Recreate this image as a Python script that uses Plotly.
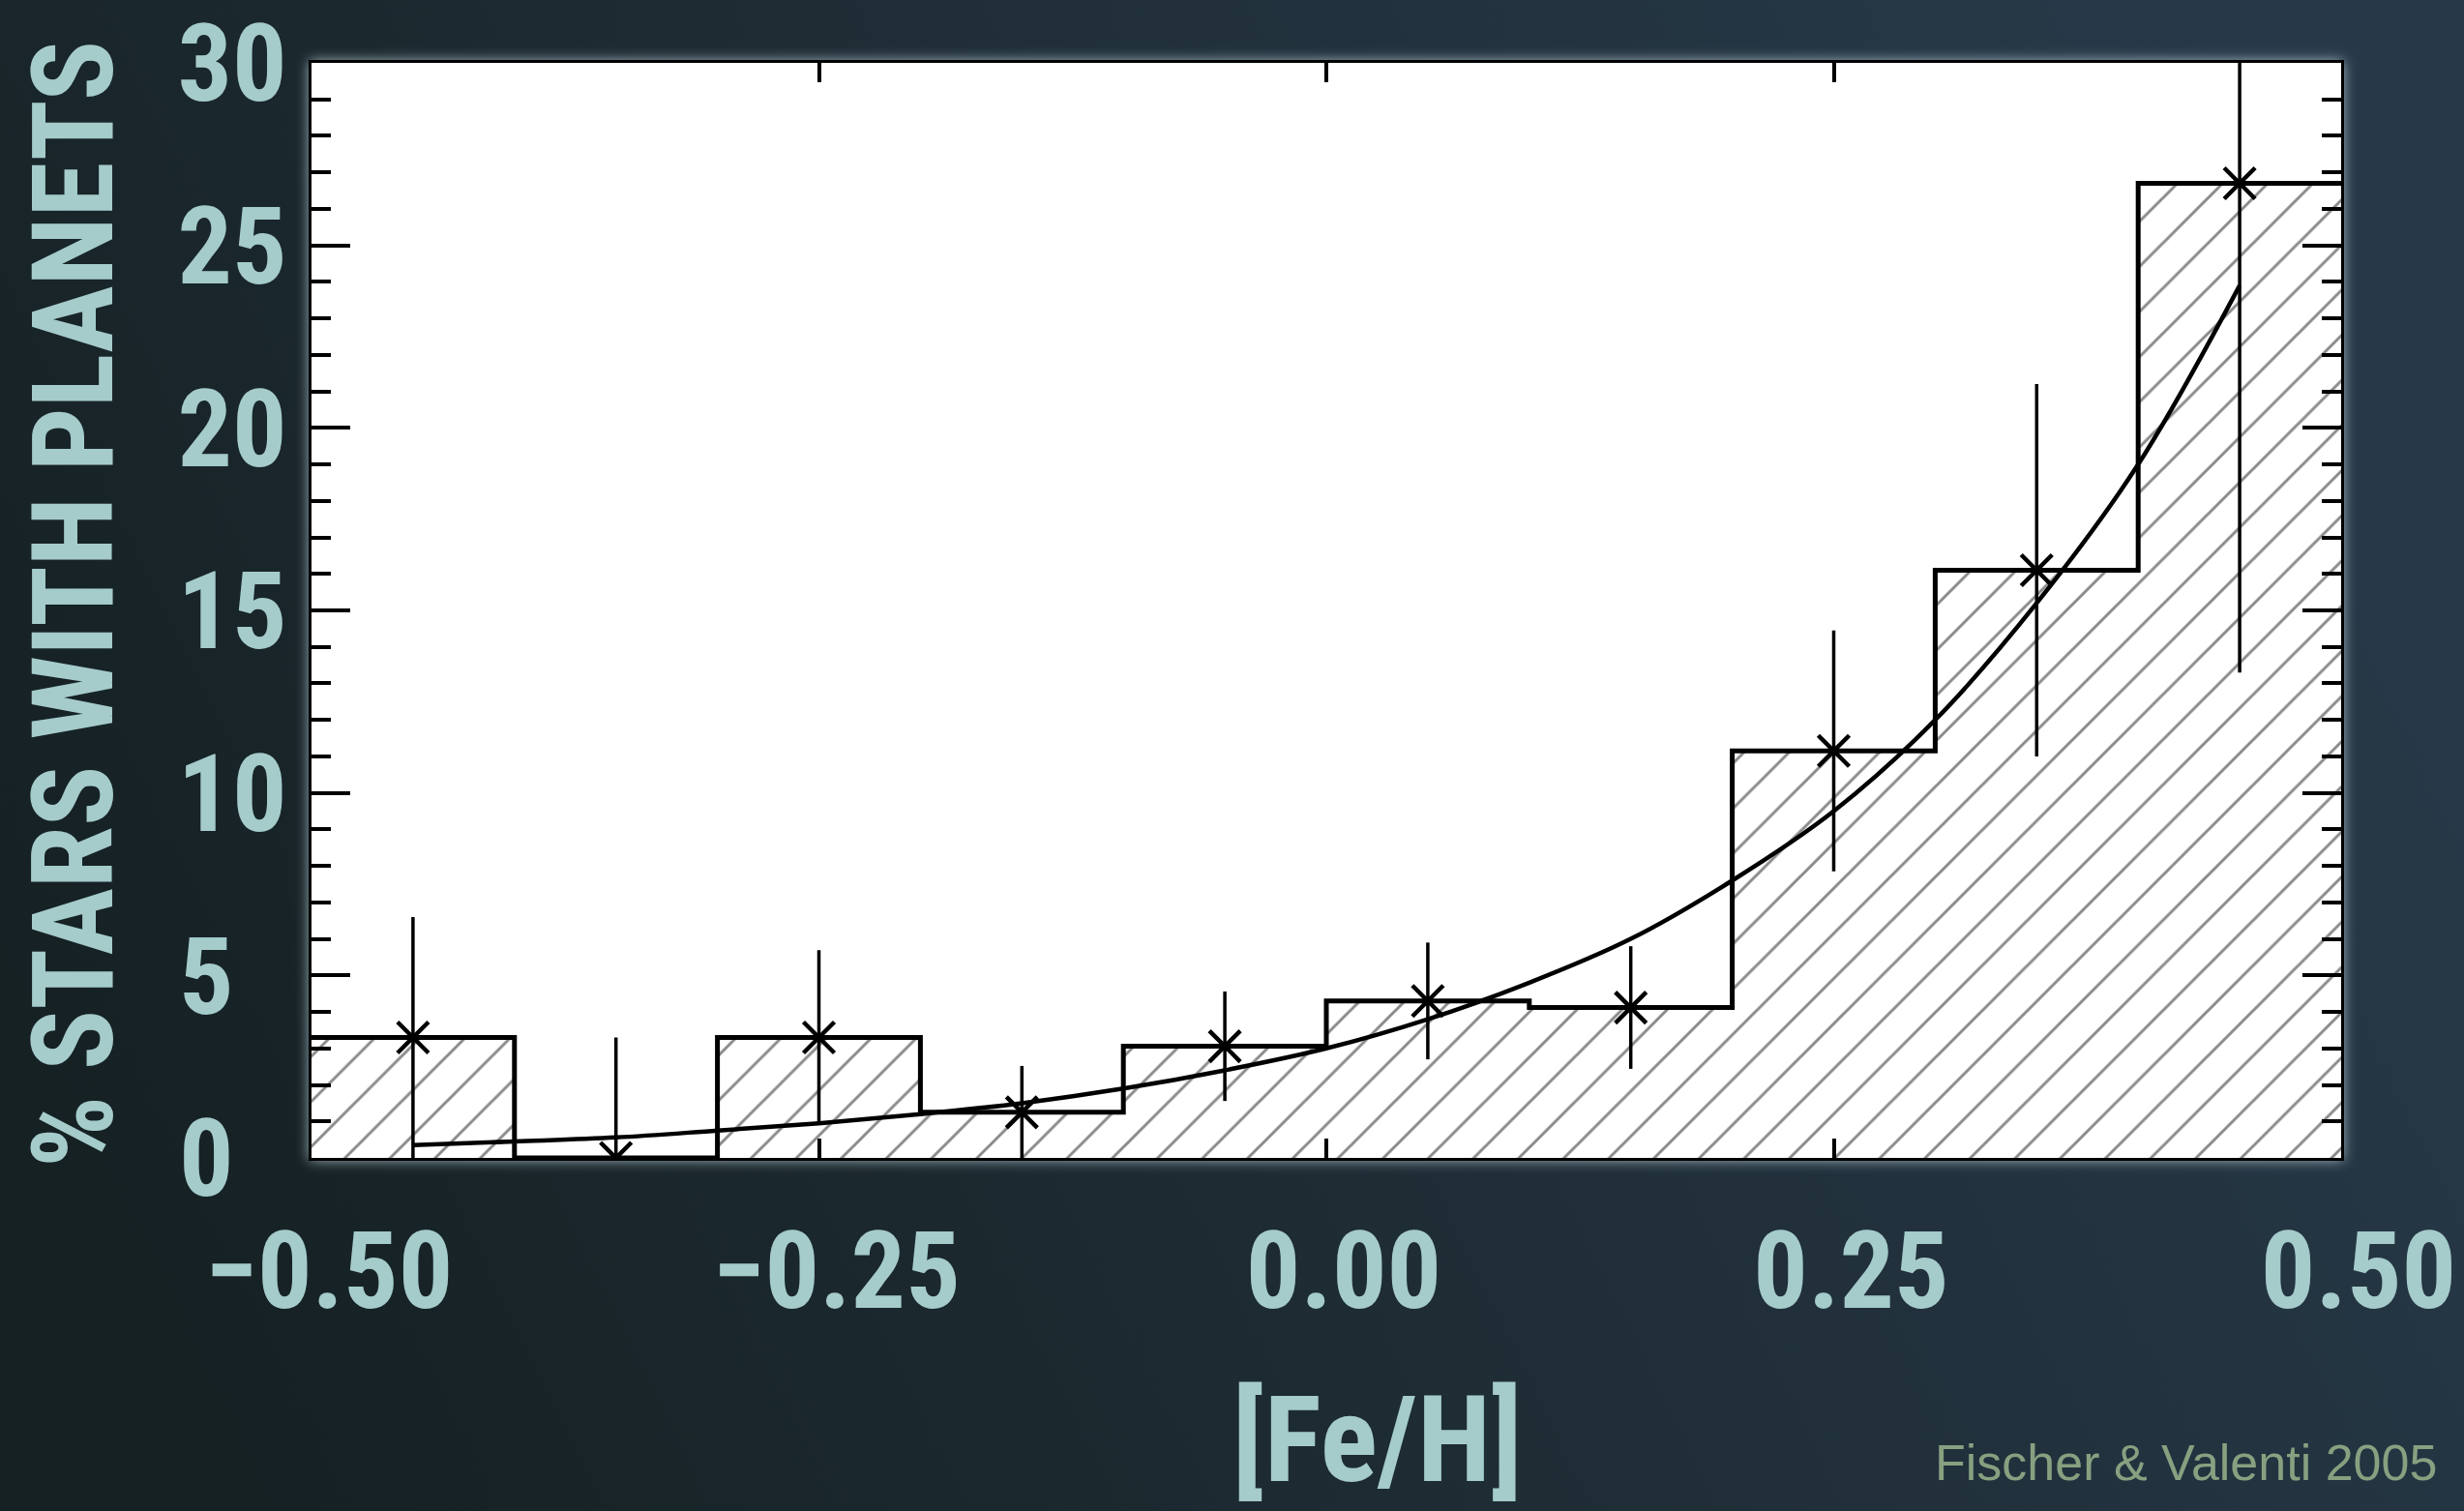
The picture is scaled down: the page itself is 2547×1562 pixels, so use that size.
import base64
import plotly.graph_objects as go

# Planet occurrence vs. stellar metallicity, 0.1 dex bins
feh_bin_centers = [-0.45, -0.35, -0.25, -0.15, -0.05, 0.05, 0.15, 0.25, 0.35, 0.45]
pct_with_planets = [3.3, 0.0, 3.3, 1.25, 3.06, 4.3, 4.12, 11.15, 16.1, 26.7]
pct_error = [3.3, 3.3, 2.39, 1.27, 1.5, 1.6, 1.68, 3.3, 5.1, 13.4]
bin_width = 0.1

# Power-law fit curve
fit_feh = [-0.45, -0.40, -0.35, -0.30, -0.25, -0.20, -0.15, -0.10, -0.05, 0.00,
           0.05, 0.10, 0.15, 0.20, 0.25, 0.30, 0.35, 0.40, 0.45]
fit_pct = [0.35, 0.45, 0.56, 0.75, 0.95, 1.2, 1.5, 1.9, 2.4, 3.0,
           3.8, 4.8, 6.0, 7.6, 9.5, 12.0, 15.2, 19.0, 23.9]

x_tick_vals = [-0.50, -0.25, 0.00, 0.25, 0.50]
x_tick_text = ["\u22120.50", "\u22120.25", "0.00", "0.25", "0.50"]
y_tick_vals = [0, 5, 10, 15, 20, 25, 30]
y_tick_text = ["0\u2007", "5\u2007", "10", "15", "20", "25", "30"]

W, H = 2547, 1562
L, R, T, B = 322, 127, 65, 365
PW, PH = W - L - R, H - T - B

TEXT = "#a5cbcb"
NARROW = "Liberation Sans Narrow, Roboto Condensed, DejaVu Sans Condensed, Liberation Sans, sans-serif"

# Backdrop: dark slate gradient, a soft halo round the plot frame, white plot panel
svg = f"""<svg xmlns="http://www.w3.org/2000/svg" width="{W}" height="{H}" viewBox="0 0 {W} {H}" preserveAspectRatio="none">
<defs>
<linearGradient id="bg" x1="0" y1="0.65" x2="1" y2="0.35">
<stop offset="0" stop-color="#152123"/>
<stop offset="0.5" stop-color="#1f2d36"/>
<stop offset="1" stop-color="#273949"/>
</linearGradient>
<filter id="halo" x="-5%" y="-5%" width="110%" height="110%"><feGaussianBlur stdDeviation="7"/></filter>
</defs>
<rect width="{W}" height="{H}" fill="url(#bg)"/>
<rect x="{L-2}" y="{T-2}" width="{PW+4}" height="{PH+4}" fill="#a9bec6" filter="url(#halo)"/>
<rect x="{L}" y="{T}" width="{PW}" height="{PH}" fill="#ffffff"/>
</svg>"""
bg_uri = "data:image/svg+xml;base64," + base64.b64encode(svg.encode()).decode()

fig = go.Figure()

# Hatched histogram
fig.add_trace(go.Bar(
    x=feh_bin_centers, y=pct_with_planets, width=bin_width,
    marker=dict(color="white", line=dict(width=0),
                pattern=dict(shape="/", fgcolor="#151515", bgcolor="white",
                             size=33, solidity=0.09, fillmode="overlay")),
    showlegend=False, hoverinfo="skip",
))

# Histogram outline as a step line
edges = [c - bin_width / 2 for c in feh_bin_centers] + [feh_bin_centers[-1] + bin_width / 2]
steps = pct_with_planets + [pct_with_planets[-1]]
fig.add_trace(go.Scatter(
    x=edges, y=steps, mode="lines", line=dict(shape="hv", color="black", width=5),
    showlegend=False, hoverinfo="skip",
))

# Fit curve
fig.add_trace(go.Scatter(
    x=fit_feh, y=fit_pct, mode="lines", line=dict(color="black", width=4.5, shape="spline"),
    showlegend=False, hoverinfo="skip",
))

# Bin values with error bars
fig.add_trace(go.Scatter(
    x=feh_bin_centers, y=pct_with_planets, mode="markers",
    marker=dict(symbol="x-thin", size=32, color="black", line=dict(width=4.5, color="black")),
    error_y=dict(type="data", array=pct_error, visible=True, width=0, thickness=3.5, color="black"),
    showlegend=False, hoverinfo="skip",
))

axis_common = dict(
    showgrid=False, zeroline=False, showline=True, linecolor="black", linewidth=3,
    mirror="allticks", ticks="inside", tickcolor="black", tickwidth=4,
    ticklabeloverflow="allow", automargin=False,
    tickfont=dict(family=NARROW, size=112, color=TEXT, weight="bold"),
)

fig.update_xaxes(range=[-0.5, 0.5], tickmode="array", tickvals=x_tick_vals, ticktext=x_tick_text,
                 ticklen=20, ticklabelstandoff=18, ticklabelshift=18, **axis_common)
fig.update_yaxes(range=[0, 30], tickmode="array", tickvals=y_tick_vals, ticktext=y_tick_text,
                 ticklen=40, ticklabelstandoff=0,
                 minor=dict(dtick=1, tick0=0, ticks="inside", ticklen=20, tickwidth=4, tickcolor="black"),
                 **axis_common)

fig.update_layout(
    width=W, height=H, autosize=False,
    margin=dict(l=L, r=R, t=T, b=B, pad=0, autoexpand=False),
    paper_bgcolor="#1d2a31", plot_bgcolor="white",
    barmode="overlay", bargap=0,
    images=[dict(source=bg_uri, xref="paper", yref="paper",
                 x=-L / PW, y=1 + T / PH, sizex=W / PW, sizey=H / PH,
                 xanchor="left", yanchor="top", sizing="stretch", layer="below")],
    annotations=[
        dict(text="% STARS WITH PLANETS", textangle=-90, xref="paper", yref="paper",
             x=(76 - L) / PW, y=(T + PH - 625) / PH, xanchor="center", yanchor="middle",
             showarrow=False, font=dict(family=NARROW, size=116, color=TEXT, weight="bold")),
        dict(text="[Fe/H]", xref="paper", yref="paper",
             x=(1424 - L) / PW, y=(T + PH - 1488) / PH, xanchor="center", yanchor="middle",
             showarrow=False, font=dict(family=NARROW, size=124, color=TEXT, weight="bold")),
        dict(text="Fischer & Valenti 2005", xref="paper", yref="paper",
             x=(2521 - L) / PW, y=(T + PH - 1512) / PH, xanchor="right", yanchor="middle",
             showarrow=False, font=dict(family="Liberation Sans, Arial, sans-serif", size=52, color="#87a080")),
    ],
)

fig.write_html("out.html")
